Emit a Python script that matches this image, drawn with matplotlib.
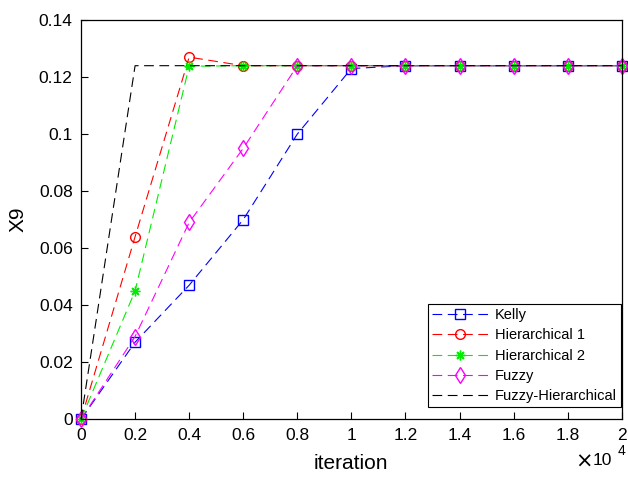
import matplotlib.pyplot as plt
from matplotlib.ticker import FuncFormatter, MultipleLocator

plt.rcParams['font.family'] = ['Liberation Sans', 'DejaVu Sans']
plt.rcParams['lines.scale_dashes'] = False

# iterations sampled every 2000
iterations = [0, 2000, 4000, 6000, 8000, 10000, 12000, 14000, 16000, 18000, 20000]

kelly = [0, 0.027, 0.047, 0.070, 0.100, 0.123, 0.124, 0.124, 0.124, 0.124, 0.124]
hier1 = [0, 0.064, 0.127, 0.124, 0.124, 0.124, 0.124, 0.124, 0.124, 0.124, 0.124]
hier2 = [0, 0.045, 0.1238, 0.124, 0.124, 0.124, 0.124, 0.124, 0.124, 0.124, 0.124]
fuzzy = [0, 0.029, 0.069, 0.095, 0.124, 0.124, 0.124, 0.124, 0.124, 0.124, 0.124]
fuzzy_hier = [0, 0.124, 0.124, 0.124, 0.124, 0.124, 0.124, 0.124, 0.124, 0.124, 0.124]

fig = plt.figure(figsize=(6.28, 4.78), dpi=100)
ax = fig.add_axes([0.129, 0.123, 0.861, 0.835])

dash = (0, (7, 4))
asterisk = (8, 2, 0)
ax.plot(iterations, kelly, color='#0000ff', ls=dash, lw=0.8, marker='s', ms=6.5,
        mfc='none', mew=1.0, label='Kelly', clip_on=False)
ax.plot(iterations, hier1, color='#ff0000', ls=dash, lw=0.8, marker='o', ms=7,
        mfc='none', mew=1.0, label='Hierarchical 1', clip_on=False)
ax.plot(iterations, hier2, color='#00ee00', ls=dash, lw=0.8, marker=asterisk, ms=7,
        mew=1.0, label='Hierarchical 2', clip_on=False)
ax.plot(iterations, fuzzy, color='#ff00ff', ls=dash, lw=0.8, marker='d', ms=8,
        mfc='none', mew=1.0, label='Fuzzy', clip_on=False)
ax.plot(iterations, fuzzy_hier, color='black', ls=dash, lw=0.8,
        label='Fuzzy-Hierarchical', clip_on=False)

ax.set_xlim(0, 20000)
ax.set_ylim(0, 0.14)
ax.xaxis.set_major_locator(MultipleLocator(2000))
ax.yaxis.set_major_locator(MultipleLocator(0.02))
ax.xaxis.set_major_formatter(FuncFormatter(lambda v, p: '%g' % round(v / 1e4, 2)))
ax.yaxis.set_major_formatter(FuncFormatter(lambda v, p: '%g' % round(v, 2)))
ax.tick_params(direction='in', length=5, width=0.8, labelsize=12.5, pad=6)
for s in ax.spines.values():
    s.set_linewidth(0.9)

ax.set_xlabel('iteration', fontsize=15, labelpad=8)
ax.set_ylabel('X9', fontsize=15, labelpad=8)
fig.text(0.915, 0.015, r'$\times$', fontsize=15, ha='left', va='bottom')
fig.text(0.943, 0.02, '10', fontsize=12.5, ha='left', va='bottom')
fig.text(0.984, 0.042, '4', fontsize=10, ha='left', va='bottom')

leg = ax.legend(loc='lower right', fontsize=10.5, handlelength=3.8, labelspacing=0.42,
                borderaxespad=0.0, bbox_to_anchor=(0.999, 0.03), fancybox=False,
                framealpha=1, edgecolor='black', borderpad=0.3, handletextpad=0.5)
leg.get_frame().set_linewidth(0.8)

fig.savefig('out.png', dpi=100)
